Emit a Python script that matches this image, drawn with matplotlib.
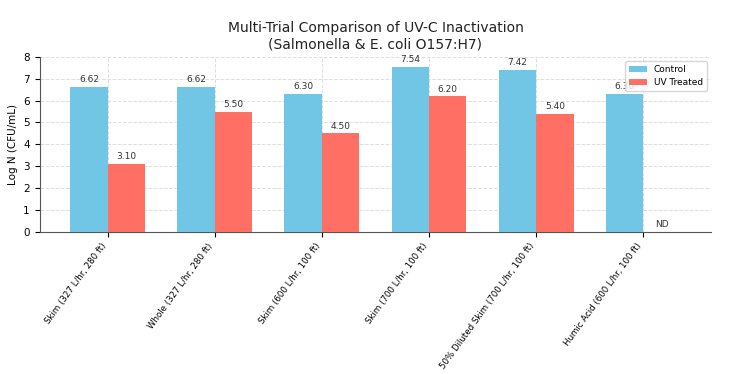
import numpy as np
import matplotlib.pyplot as plt

trials = ["Skim (327 L/hr, 280 ft)", "Whole (327 L/hr, 280 ft)", "Skim (600 L/hr, 100 ft)",
          "Skim (700 L/hr, 100 ft)", "50% Diluted Skim (700 L/hr, 100 ft)", "Humic Acid (600 L/hr, 100 ft)"]
control = [6.62, 6.62, 6.30, 7.54, 7.42, 6.30]
uv_treated = [3.10, 5.50, 4.50, 6.20, 5.40, 0.0]
uv_nd = [False, False, False, False, False, True]

x = np.arange(len(trials))
w = 0.35

fig = plt.figure(figsize=(7.34, 3.74), dpi=100)
ax = fig.add_axes([0.054, 0.38, 0.915, 0.468])

b1 = ax.bar(x - w / 2, control, w, color="#72C6E5", label="Control", zorder=3)
b2 = ax.bar(x + w / 2, uv_treated, w, color="#FF6F63", label="UV Treated", zorder=3)

for bar, v in zip(b1, control):
    ax.text(bar.get_x() + bar.get_width() / 2, v + 0.12, f"{v:.2f}",
            ha="center", va="bottom", fontsize=6.5, color="#333333")
for bar, v, nd in zip(b2, uv_treated, uv_nd):
    label = "ND" if nd else f"{v:.2f}"
    ax.text(bar.get_x() + bar.get_width() / 2, v + 0.12, label,
            ha="center", va="bottom", fontsize=6.5, color="#333333")

ax.set_xticks(x)
ax.set_xticklabels(trials, rotation=54, ha="right", fontsize=6.2)
ax.set_ylim(0, 8)
ax.set_yticks(range(0, 9))
ax.tick_params(axis="y", labelsize=7.5)
ax.set_ylabel("Log N (CFU/mL)", fontsize=7.5)
ax.set_title("Multi-Trial Comparison of UV-C Inactivation\n(Salmonella & E. coli O157:H7)",
             fontsize=10, color="#222222")
ax.grid(True, linestyle="--", color="#dddddd", linewidth=0.7, zorder=0)
for s in ["top", "right"]:
    ax.spines[s].set_visible(False)
ax.spines["left"].set_color("#555555")
ax.spines["bottom"].set_color("#555555")
ax.legend(loc="upper right", fontsize=6.5)

fig.savefig("out.png", dpi=100)
